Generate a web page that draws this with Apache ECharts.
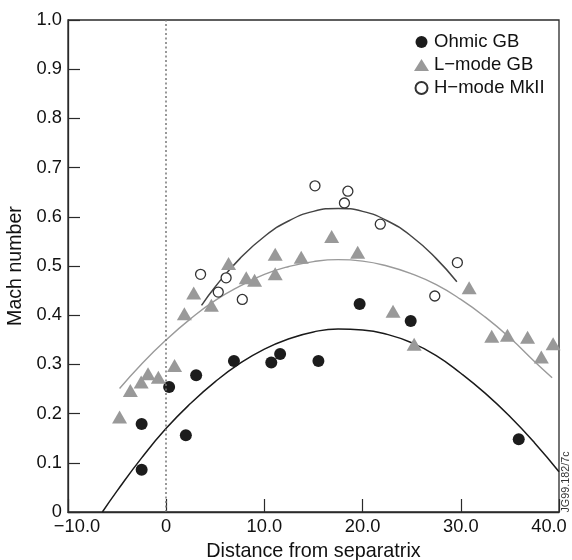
<!DOCTYPE html>
<html>
<head>
<meta charset="utf-8">
<script src="https://cdn.jsdelivr.net/npm/echarts@6/dist/echarts.min.js"></script>
<style>
html,body{margin:0;padding:0;background:#fff;}
#chart{width:572px;height:560px;}
</style>
</head>
<body>
<div id="chart"></div>
<script>
// ---- data ----
const seriesNames = ['Ohmic GB', 'L\u2212mode GB', 'H\u2212mode MkII'];

const ohmicGB = [
  [-2.5, 0.086], [-2.5, 0.179], [0.3, 0.254], [2.0, 0.156], [3.05, 0.278],
  [6.9, 0.307], [10.7, 0.304], [11.6, 0.321], [15.5, 0.307], [19.7, 0.423],
  [24.9, 0.388], [35.9, 0.148]
];

const lmodeGB = [
  [-4.75, 0.193], [-3.65, 0.247], [-2.55, 0.264], [-1.85, 0.281], [-0.8, 0.274],
  [0.85, 0.298], [1.85, 0.403], [2.8, 0.445], [4.6, 0.420], [6.35, 0.505],
  [8.15, 0.476], [9.0, 0.471], [11.1, 0.484], [11.1, 0.524], [13.75, 0.518],
  [16.85, 0.560], [19.5, 0.528], [23.1, 0.408], [25.25, 0.341], [30.85, 0.456],
  [33.15, 0.357], [34.75, 0.359], [36.8, 0.355], [38.2, 0.315], [39.4, 0.342]
];

const hmodeMkII = [
  [3.5, 0.483], [5.3, 0.447], [6.1, 0.476], [7.75, 0.432], [15.15, 0.663],
  [18.15, 0.628], [18.5, 0.652], [21.8, 0.585], [27.35, 0.439], [29.65, 0.507]
];

// fitted curves, points
const ohmicFit = [
  [-6.5, 0.0], [-5, 0.043], [-2.5, 0.110], [0, 0.170], [2.5, 0.221], [5, 0.265],
  [7.5, 0.302], [10, 0.331], [12.5, 0.352], [15, 0.366], [17.5, 0.372],
  [20, 0.370], [22.5, 0.361], [25, 0.344], [27.5, 0.318], [30, 0.282],
  [32.5, 0.241], [35, 0.194], [37.5, 0.141], [40, 0.082]
];

const lmodeFit = [
  [-4.75, 0.251], [-2.5, 0.301], [0, 0.350], [2.5, 0.393], [5, 0.430],
  [7.5, 0.459], [10, 0.483], [12.5, 0.499], [15, 0.509], [17.5, 0.513],
  [20, 0.510], [22.5, 0.500], [25, 0.484], [27.5, 0.462], [30, 0.432],
  [32.5, 0.396], [35, 0.354], [37.5, 0.306], [39.3, 0.273]
];

const hmodeFit = [
  [3.6, 0.420], [5, 0.458], [7.5, 0.515], [10, 0.560], [12.5, 0.592],
  [15, 0.611], [17.5, 0.617], [20, 0.611], [22.5, 0.592], [25, 0.560],
  [27.5, 0.515], [29.6, 0.468]
];

const xTickLabels = ['\u221210.0', '0', '10.0', '20.0', '30.0', '40.0'];
const yTickLabels = ['0', '0.1', '0.2', '0.3', '0.4', '0.5', '0.6', '0.7', '0.8', '0.9', '1.0'];
const xTitle = 'Distance from separatrix';
const yTitle = 'Mach number';
const stamp = 'JG99.182/7c';

// ---- chart ----
const FONT = '"Liberation Sans", Arial, Helvetica, sans-serif';
const chart = echarts.init(document.getElementById('chart'), null, {renderer: 'canvas'});

const axisCol = '#2a2a2a';
const tickFont = 18.3;

chart.setOption({
  animation: false,
  backgroundColor: '#ffffff',
  textStyle: {fontFamily: FONT},
  grid: {
    left: 68, right: 13, top: 20, bottom: 48,
    containLabel: false, outerBoundsMode: 'none',
    show: true, borderColor: axisCol, borderWidth: 1.3, backgroundColor: 'transparent'
  },
  legend: {
    orient: 'vertical',
    left: 414, top: 32.5, padding: 0,
    itemWidth: 15, itemHeight: 12, itemGap: 4,
    data: seriesNames,
    selectedMode: false,
    textStyle: {fontFamily: FONT, fontSize: 18.5, color: '#111', lineHeight: 19}
  },
  xAxis: {
    type: 'value', min: -10, max: 40, interval: 10,
    name: xTitle, nameLocation: 'middle', nameGap: 30,
    nameTextStyle: {fontFamily: FONT, fontSize: 19.8, color: '#111'},
    axisLine: {show: true, onZero: false, lineStyle: {color: axisCol, width: 1.3}},
    axisTick: {show: true, inside: true, length: 13, lineStyle: {color: axisCol, width: 1.2}},
    splitLine: {show: false},
    axisLabel: {
      showMinLabel: true, showMaxLabel: true,
      margin: 6, fontFamily: FONT, fontSize: tickFont, color: '#111',
      formatter: function (v) {
        const i = Math.round((v + 10) / 10);
        const s = xTickLabels[i];
        if (i === 0) return '{l|' + s + '}';
        if (i === xTickLabels.length - 1) return '{r|' + s + '}';
        return s;
      },
      rich: {
        l: {padding: [0, 0, 0, 18], fontFamily: FONT, fontSize: tickFont, color: '#111'},
        r: {padding: [0, 20, 0, 0], fontFamily: FONT, fontSize: tickFont, color: '#111'}
      }
    }
  },
  yAxis: {
    type: 'value', min: 0, max: 1, interval: 0.1,
    name: yTitle, nameLocation: 'middle', nameGap: 39,
    nameTextStyle: {fontFamily: FONT, fontSize: 19.6, color: '#111'},
    axisLine: {show: true, onZero: false, lineStyle: {color: axisCol, width: 1.3}},
    axisTick: {show: true, inside: true, length: 12, lineStyle: {color: axisCol, width: 1.2}},
    splitLine: {show: false},
    axisLabel: {
      showMinLabel: true, showMaxLabel: true,
      margin: 6, fontFamily: FONT, fontSize: tickFont, color: '#111',
      formatter: function (v) { return yTickLabels[Math.round(v * 10)]; }
    }
  },
  graphic: [{
    type: 'text', x: 566, y: 482, rotation: Math.PI / 2,
    style: {text: stamp, fontFamily: FONT, fontSize: 10.8, fill: '#333', align: 'center', verticalAlign: 'middle'}
  }],
  series: [
    {
      type: 'line', data: ohmicFit, showSymbol: false, smooth: true, silent: true, z: 1,
      lineStyle: {color: '#1a1a1a', width: 1.5},
      markLine: {
        silent: true, symbol: ['none', 'none'], label: {show: false},
        lineStyle: {color: '#777', type: [2, 2.5], width: 1.5},
        data: [{xAxis: 0}]
      }
    },
    {
      type: 'line', data: lmodeFit, showSymbol: false, smooth: true, silent: true, z: 1,
      lineStyle: {color: '#9a9a9a', width: 1.4}
    },
    {
      type: 'line', data: hmodeFit, showSymbol: false, smooth: true, silent: true, z: 1,
      lineStyle: {color: '#444', width: 1.5}
    },
    {
      name: seriesNames[0], type: 'scatter', data: ohmicGB, symbol: 'circle', symbolSize: 12, z: 3,
      itemStyle: {color: '#1c1c1c', opacity: 1}
    },
    {
      name: seriesNames[1], type: 'scatter', data: lmodeGB, symbol: 'triangle', symbolSize: [15, 13], z: 3,
      itemStyle: {color: '#999999', opacity: 1}
    },
    {
      name: seriesNames[2], type: 'scatter', data: hmodeMkII, symbol: 'circle', symbolSize: 10, z: 3,
      itemStyle: {color: '#ffffff', borderColor: '#333', borderWidth: 1.3, opacity: 1}
    }
  ]
});
</script>
</body>
</html>
